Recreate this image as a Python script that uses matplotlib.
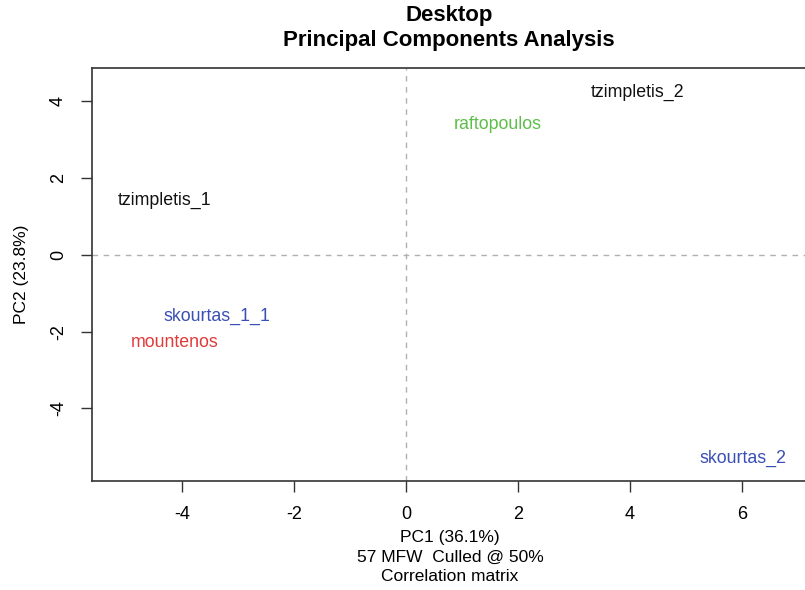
import matplotlib
matplotlib.use("Agg")
from matplotlib import pyplot as plt

# PCA scores
labels = ["tzimpletis_2", "raftopoulos", "tzimpletis_1", "skourtas_1_1", "mountenos", "skourtas_2"]
pc1 = [4.14, 1.63, -4.32, -3.38, -4.14, 6.02]
pc2 = [4.24, 3.41, 1.43, -1.61, -2.29, -5.29]
colors = ["#111111", "#5cbf48", "#111111", "#3a4fb5", "#e03a3a", "#3a4fb5"]

xticks = [-4, -2, 0, 2, 4, 6]
yticks = [-4, -2, 0, 2, 4]

plt.rcParams['font.family'] = ['Liberation Sans', 'DejaVu Sans']
plt.rcParams['axes.unicode_minus'] = False

fig = plt.figure(figsize=(8.05, 5.90), dpi=100)
ax = fig.add_axes([92/805, 1 - 481/590, 716/805, 413/590])

for x, y, lab, c in zip(pc1, pc2, labels, colors):
    ax.text(x, y, lab, color=c, fontsize=12.8, ha='center', va='center')

ax.axhline(0, color='#b0b0b0', ls=(0, (4, 4)), lw=1)
ax.axvline(0, color='#b0b0b0', ls=(0, (4, 4)), lw=1)

ax.set_xlim(-5.61, 7.18)
ax.set_ylim(-5.89, 4.87)
ax.set_xticks(xticks)
ax.set_yticks(yticks)
ax.set_yticklabels([str(t) for t in yticks], rotation=90, va='center')
ax.tick_params(direction='out', length=8, width=1, color='#333333', labelsize=13, pad=10)
for s in ax.spines.values():
    s.set_color('#333333')
    s.set_linewidth(1.2)

ax.set_xlabel("PC1 (36.1%)\n57 MFW  Culled @ 50%\nCorrelation matrix", fontsize=12.5,
              labelpad=5, linespacing=1.38)
ax.set_ylabel("PC2 (23.8%)", fontsize=12.5, labelpad=15)
fig.text(449/805, 1 - 28/590, "Desktop\nPrincipal Components Analysis", ha='center', va='center',
         fontsize=16, fontweight='bold', linespacing=1.3)

fig.savefig("out.png", dpi=100)
